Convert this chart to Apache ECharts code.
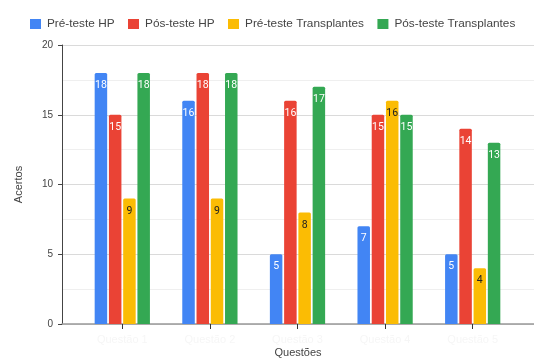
<!DOCTYPE html>
<html>
<head>
<meta charset="utf-8">
<script src="https://cdn.jsdelivr.net/npm/echarts@6/dist/echarts.min.js"></script>
<style>
  html, body { margin: 0; padding: 0; background: #fff; }
  #chart { width: 534px; height: 358px; }
</style>
</head>
<body>
<div id="chart"></div>
<script>
// Quiz results per question, before and after each session
const categories = ['Questão 1', 'Questão 2', 'Questão 3', 'Questão 4', 'Questão 5'];
const seriesNames = ['Pré-teste HP', 'Pós-teste HP', 'Pré-teste Transplantes', 'Pós-teste Transplantes'];
const preHP = [18, 16, 5, 7, 5];
const posHP = [15, 18, 16, 15, 14];
const preTx = [9, 9, 8, 16, 4];
const posTx = [18, 18, 17, 15, 13];
const yTicks = [0, 5, 10, 15, 20];

const colors = ['#4285F4', '#EA4335', '#FBBC04', '#34A853'];
const labelColors = ['#ffffff', '#ffffff', '#222222', '#ffffff'];
const values = [preHP, posHP, preTx, posTx];

const FONT = 'Arial, "Liberation Sans", sans-serif';

const chart = echarts.init(document.getElementById('chart'), null, { renderer: 'canvas' });

chart.setOption({
  animation: false,
  backgroundColor: '#ffffff',
  textStyle: { fontFamily: FONT },
  legend: {
    left: 25,
    top: 13,
    itemWidth: 11,
    itemHeight: 10,
    itemGap: 13.5,
    icon: 'rect',
    textStyle: { fontSize: 11.8, color: '#444', fontFamily: FONT, padding: [0, 0, 0, 1] },
    data: seriesNames
  },
  grid: [
    // frame: gridlines and axes across the full width
    { left: 62, right: 0, top: 45, bottom: 34, outerBoundsMode: 'none', containLabel: false },
    // bars
    { left: 78.5, right: 17.5, top: 45, bottom: 34, outerBoundsMode: 'none', containLabel: false }
  ],
  xAxis: [
    {
      gridIndex: 0, type: 'value', min: 0, max: 1,
      axisLine: { show: true, lineStyle: { color: '#999', width: 1.5 } },
      axisTick: { show: false }, axisLabel: { show: false }, splitLine: { show: false },
      name: 'Questões', nameLocation: 'middle', nameGap: 23,
      nameTextStyle: { fontSize: 11, color: '#444', fontFamily: FONT }
    },
    {
      gridIndex: 1, type: 'category', data: categories,
      axisLine: { show: false },
      axisTick: { show: true, alignWithLabel: true, length: 5, lineStyle: { color: '#333' } },
      axisLabel: { color: '#f6f6f6', fontSize: 11, margin: 10 },
      splitLine: { show: false }
    }
  ],
  yAxis: [
    {
      gridIndex: 0, type: 'value', min: yTicks[0], max: yTicks[yTicks.length - 1], interval: 5,
      axisLine: { show: true, lineStyle: { color: '#444', width: 1 } },
      axisTick: { show: true, length: 4, lineStyle: { color: '#444' } },
      axisLabel: { fontSize: 10, color: '#444', margin: 9, fontFamily: FONT },
      splitLine: { show: true, lineStyle: { color: '#dadada', width: 1 } },
      minorTick: { show: false, splitNumber: 2 },
      minorSplitLine: { show: true, lineStyle: { color: '#efefef', width: 1 } },
      name: 'Acertos', nameLocation: 'middle', nameRotate: 90, nameGap: 38,
      nameTextStyle: { fontSize: 11, color: '#444', fontFamily: FONT }
    },
    {
      gridIndex: 1, type: 'value', min: 0, max: 20, show: false
    }
  ],
  series: seriesNames.map((name, i) => ({
    name: name,
    type: 'bar',
    xAxisIndex: 1,
    yAxisIndex: 1,
    data: values[i],
    barWidth: 12.5,
    barGap: '14%',
    itemStyle: { color: colors[i], borderRadius: [1.5, 1.5, 0, 0] },
    label: {
      show: true,
      position: 'insideTop',
      distance: 7,
      fontSize: 10.5,
      color: labelColors[i],
      fontFamily: 'Roboto, Arial, sans-serif'
    }
  }))
});
</script>
</body>
</html>
